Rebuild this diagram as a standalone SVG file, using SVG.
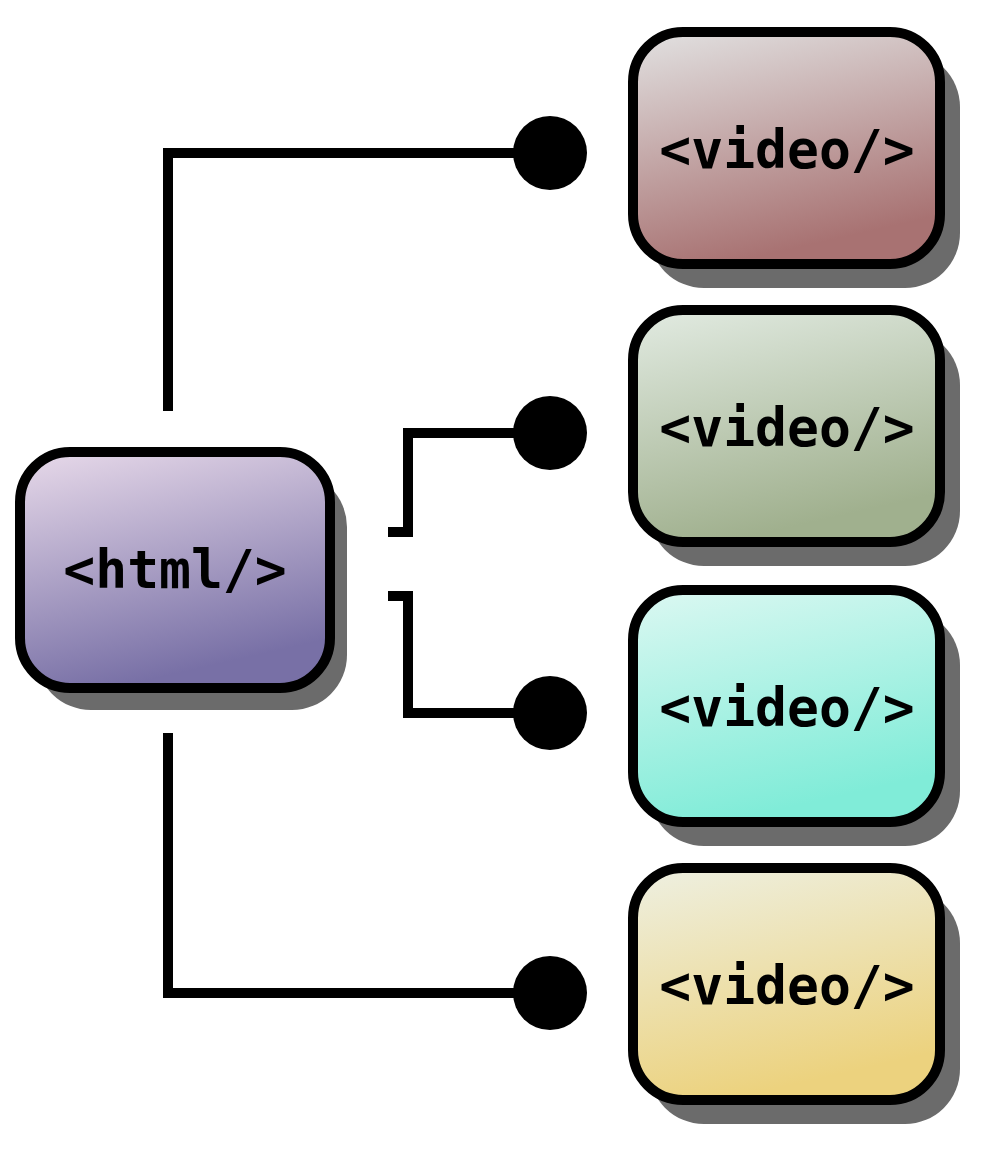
<svg xmlns="http://www.w3.org/2000/svg" width="993" height="1152" viewBox="0 0 993 1152">
<style>
.box{stroke:#000;stroke-width:10}
.sh{fill:#6b6b6b}
.t{font-family:"DejaVu Sans Mono",monospace;font-weight:bold;font-size:53px;text-anchor:middle;fill:#000}
.c{fill:none;stroke:#000;stroke-width:10}
</style>
<defs>
<linearGradient id="g0" x1="0" y1="0" x2="0.3" y2="1"><stop offset="0" stop-color="#e8daea"/><stop offset="1" stop-color="#7870a6"/></linearGradient>
<linearGradient id="g1" x1="0" y1="0" x2="0.3" y2="1"><stop offset="0" stop-color="#e2e2e2"/><stop offset="1" stop-color="#a87272"/></linearGradient>
<linearGradient id="g2" x1="0" y1="0" x2="0.3" y2="1"><stop offset="0" stop-color="#e2ebe2"/><stop offset="1" stop-color="#a0b08e"/></linearGradient>
<linearGradient id="g3" x1="0" y1="0" x2="0.3" y2="1"><stop offset="0" stop-color="#dcf8f2"/><stop offset="1" stop-color="#80ecd8"/></linearGradient>
<linearGradient id="g4" x1="0" y1="0" x2="0.3" y2="1"><stop offset="0" stop-color="#eef0e2"/><stop offset="1" stop-color="#ecd27e"/></linearGradient>
</defs>
<g id="connectors">
<path class="c" d="M168,411 V153 H550"/>
<path class="c" d="M388,532 H408 V433 H550"/>
<path class="c" d="M388,596 H408 V713 H550"/>
<path class="c" d="M168,733 V993 H550"/>
<circle cx="550" cy="153" r="37"/>
<circle cx="550" cy="433" r="37"/>
<circle cx="550" cy="713" r="37"/>
<circle cx="550" cy="993" r="37"/>
</g>
<g id="html">
<rect class="sh" x="36" y="472" width="311" height="238" rx="55"/>
<rect class="box" x="20" y="452" width="310" height="236" rx="50" fill="url(#g0)"/>
<text class="t" x="175" y="588">&lt;html/&gt;</text>
</g>
<g id="video1">
<rect class="sh" x="649" y="52" width="311" height="236" rx="55"/>
<rect class="box" x="633" y="32" width="307" height="232" rx="50" fill="url(#g1)"/>
<text class="t" x="787" y="168">&lt;video/&gt;</text>
</g>
<g id="video2">
<rect class="sh" x="649" y="330" width="311" height="236" rx="55"/>
<rect class="box" x="633" y="310" width="307" height="232" rx="50" fill="url(#g2)"/>
<text class="t" x="787" y="446">&lt;video/&gt;</text>
</g>
<g id="video3">
<rect class="sh" x="649" y="610" width="311" height="236" rx="55"/>
<rect class="box" x="633" y="590" width="307" height="232" rx="50" fill="url(#g3)"/>
<text class="t" x="787" y="726">&lt;video/&gt;</text>
</g>
<g id="video4">
<rect class="sh" x="649" y="888" width="311" height="236" rx="55"/>
<rect class="box" x="633" y="868" width="307" height="232" rx="50" fill="url(#g4)"/>
<text class="t" x="787" y="1004">&lt;video/&gt;</text>
</g>
</svg>
